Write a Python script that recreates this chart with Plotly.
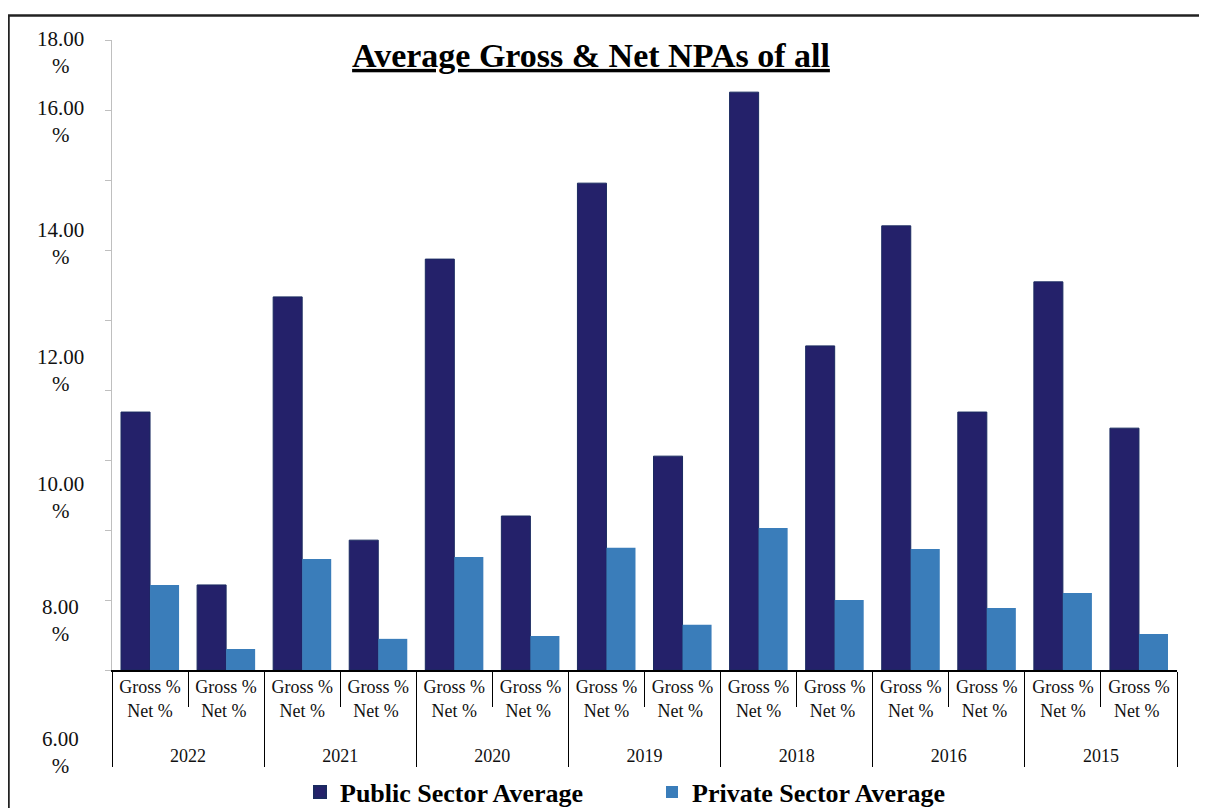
import plotly.graph_objects as go

# ---- data ----
years = ["2022", "2021", "2020", "2019", "2018", "2016", "2015"]
inner_labels = ["Gross %<br>Net %", "Gross %<br>Net % "]
public_avg = [7.37, 2.43, 10.66, 3.71, 11.74, 4.40, 13.91, 6.11, 16.51, 9.26, 12.69, 7.37, 11.09, 6.91]
private_avg = [2.43, 0.60, 3.17, 0.89, 3.23, 0.97, 3.49, 1.29, 4.06, 2.00, 3.46, 1.77, 2.20, 1.03]
y_tick_texts = ["18.00<br>%", "16.00<br>%", "14.00<br>%", "12.00<br>%", "10.00<br>%", "8.00<br>%", "6.00<br>%"]
series_names = ["Public Sector Average", "Private Sector Average"]
title_text = "Average Gross & Net NPAs of all"

# ---- layout constants (page pixels; the page body adds an 8px offset) ----
OFF = 8
PAGE_W, PAGE_H = 1207, 808
W, H = PAGE_W - OFF, PAGE_H - OFF
plot_left, plot_right, plot_top, plot_bottom = 112, 1177, 40, 670
L = plot_left - OFF
R = W - (plot_right - OFF)
T = plot_top - OFF
B = H - (plot_bottom - OFF)
plot_w = plot_right - plot_left
plot_h = plot_bottom - plot_top
# where each (misplaced) y label block sits, in page pixels
y_label_centers_px = [52, 122, 244, 370, 497, 620, 752]

outer = ["<br>" + y for y in years for _ in range(2)]
inner = inner_labels * len(years)

def px_to_paper_y(py):
    return (plot_bottom - py) / plot_h

def px_to_paper_x(px):
    return (px - plot_left) / plot_w

font_family = "Liberation Serif, DejaVu Serif, serif"

fig = go.Figure()
fig.add_trace(go.Bar(
    x=[outer, inner], y=public_avg, name="<b>" + series_names[0] + "</b>",
    marker=dict(color="#24216A", line=dict(color="#1A2A60", width=1)),
))
fig.add_trace(go.Bar(
    x=[outer, inner], y=private_avg, name="<b>" + series_names[1] + "</b>",
    marker=dict(color="#3A7DBA", line=dict(width=0)),
))

annotations = []
for txt, cy in zip(y_tick_texts, y_label_centers_px):
    annotations.append(dict(
        text=txt, xref="paper", yref="paper",
        x=px_to_paper_x(60), y=px_to_paper_y(cy),
        xanchor="center", yanchor="middle", showarrow=False,
        font=dict(family=font_family, size=21, color="#111111"),
        align="center",
    ))

fig.update_layout(
    width=W, height=H,
    margin=dict(l=L, r=R, t=T, b=B, autoexpand=False),
    paper_bgcolor="white", plot_bgcolor="white",
    barmode="group", bargap=0.237, bargroupgap=0,
    font=dict(family=font_family, color="#111111"),
    title=dict(
        text="<b><u>" + title_text + "</u></b>",
        xref="paper", x=px_to_paper_x(591), xanchor="center",
        yref="container", y=1 - (55 - OFF) / H, yanchor="middle",
        font=dict(family=font_family, size=34, color="black"),
    ),
    xaxis=dict(
        type="multicategory", automargin=False,
        showline=True, linecolor="black", linewidth=1.5,
        ticks="outside", ticklen=35, tickcolor="black", tickwidth=1.2,
        showdividers=True, dividercolor="black", dividerwidth=1.2,
        tickfont=dict(family=font_family, size=18, color="#111111"),
        showgrid=False,
    ),
    yaxis=dict(
        range=[0, 18], dtick=2, tick0=0, automargin=False,
        showline=True, linecolor="#BFBFBF", linewidth=1.2,
        ticks="outside", ticklen=6, tickcolor="#BFBFBF",
        showticklabels=False, showgrid=False, zeroline=False,
    ),
    legend=dict(
        orientation="h", xref="paper", yref="container",
        x=px_to_paper_x(300), xanchor="left",
        y=1 - (792 - OFF) / H, yanchor="middle",
        entrywidth=307, entrywidthmode="pixels",
        font=dict(family=font_family, size=26, color="black"),
        itemsizing="constant",
    ),
    annotations=annotations,
    shapes=[dict(
        type="rect", xref="paper", yref="paper",
        x0=px_to_paper_x(8.5), x1=px_to_paper_x(1260),
        y0=px_to_paper_y(900), y1=px_to_paper_y(15.5),
        line=dict(color="#222222", width=2.5), layer="above",
    )],
    showlegend=True,
)

fig.write_html("out.html")
